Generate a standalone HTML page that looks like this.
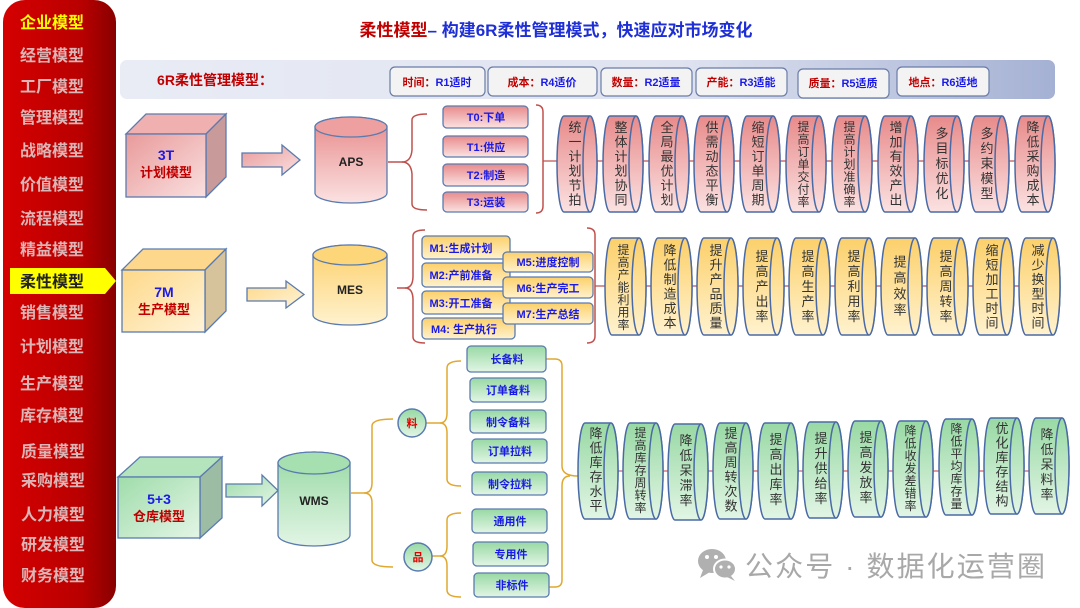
<!DOCTYPE html>
<html><head><meta charset="utf-8"><style>
html,body{margin:0;padding:0;background:#fff;}
svg{display:block;font-family:"Liberation Sans","Noto Sans CJK SC",sans-serif;}
.sb{font-size:16px;font-weight:bold;fill:#dcb6b6;text-anchor:middle;}
.bx{font-size:11px;font-weight:bold;fill:#1a1ae6;text-anchor:middle;}
.vt{font-size:13px;fill:#333;text-anchor:middle;writing-mode:vertical-rl;text-orientation:upright;}
.v7{font-size:12px;}
.rb{font-size:11px;font-weight:bold;text-anchor:middle;}
</style></head><body>
<svg width="1080" height="608" viewBox="0 0 1080 608" xmlns="http://www.w3.org/2000/svg">
<defs>
<linearGradient id="sbg" x1="0" y1="0" x2="1" y2="0"><stop offset="0" stop-color="#d50000"/><stop offset="0.7" stop-color="#b80000"/><stop offset="1" stop-color="#880000"/></linearGradient>
<linearGradient id="bar" x1="0" y1="0" x2="1" y2="0"><stop offset="0" stop-color="#e9ecf5"/><stop offset="0.6" stop-color="#dfe3f0"/><stop offset="1" stop-color="#a5b1d4"/></linearGradient>
<linearGradient id="gr" x1="0" y1="0" x2="0" y2="1"><stop offset="0" stop-color="#e88a8a"/><stop offset="1" stop-color="#fbe2e2"/></linearGradient>
<linearGradient id="go" x1="0" y1="0" x2="0" y2="1"><stop offset="0" stop-color="#fcd06a"/><stop offset="1" stop-color="#fff2cf"/></linearGradient>
<linearGradient id="gg" x1="0" y1="0" x2="0" y2="1"><stop offset="0" stop-color="#98d9a4"/><stop offset="1" stop-color="#e2f5e5"/></linearGradient>
<linearGradient id="grd" x1="0" y1="0" x2="1" y2="1"><stop offset="0" stop-color="#e99a9a"/><stop offset="1" stop-color="#fae0e0"/></linearGradient>
<linearGradient id="god" x1="0" y1="0" x2="1" y2="1"><stop offset="0" stop-color="#fdd888"/><stop offset="1" stop-color="#fff3d8"/></linearGradient>
<linearGradient id="ggd" x1="0" y1="0" x2="1" y2="1"><stop offset="0" stop-color="#9fdcaa"/><stop offset="1" stop-color="#e3f5e6"/></linearGradient>
<g id="c1"><path d="M7,0 L33,0 A7,48 0 0 1 33,96 L7,96 A7,48 0 0 1 7,0 Z" fill="url(#gr)" stroke="#4a6aa5" stroke-width="1.5"/><ellipse cx="33" cy="48" rx="7" ry="48" fill="url(#gr)" stroke="#4a6aa5" stroke-width="1.5"/></g>
<g id="c2"><path d="M7,0 L34,0 A7,48.5 0 0 1 34,97 L7,97 A7,48.5 0 0 1 7,0 Z" fill="url(#go)" stroke="#4a6aa5" stroke-width="1.5"/><ellipse cx="34" cy="48.5" rx="7" ry="48.5" fill="url(#go)" stroke="#4a6aa5" stroke-width="1.5"/></g>
<g id="c3"><path d="M7,0 L33,0 A7,48 0 0 1 33,96 L7,96 A7,48 0 0 1 7,0 Z" fill="url(#gg)" stroke="#4a6aa5" stroke-width="1.5"/><ellipse cx="33" cy="48" rx="7" ry="48" fill="url(#gg)" stroke="#4a6aa5" stroke-width="1.5"/></g>
</defs>

<!-- sidebar -->
<rect x="3" y="0" width="113" height="608" rx="22" fill="url(#sbg)"/>
<polygon points="10,268 105,268 116,281 105,294 10,294" fill="#ffff00"/>
<text class="sb" x="52" y="28" style="fill:#ffff00">企业模型</text>
<text class="sb" x="52" y="61">经营模型</text>
<text class="sb" x="52" y="92">工厂模型</text>
<text class="sb" x="52" y="123">管理模型</text>
<text class="sb" x="52" y="156">战略模型</text>
<text class="sb" x="52" y="190">价值模型</text>
<text class="sb" x="52" y="224">流程模型</text>
<text class="sb" x="52" y="255">精益模型</text>
<text class="sb" x="52" y="287" style="fill:#222">柔性模型</text>
<text class="sb" x="52" y="318">销售模型</text>
<text class="sb" x="52" y="352">计划模型</text>
<text class="sb" x="52" y="389">生产模型</text>
<text class="sb" x="52" y="421">库存模型</text>
<text class="sb" x="53" y="457">质量模型</text>
<text class="sb" x="53" y="486">采购模型</text>
<text class="sb" x="53" y="520">人力模型</text>
<text class="sb" x="53" y="550">研发模型</text>
<text class="sb" x="53" y="581">财务模型</text>

<!-- title -->
<text x="556" y="36" text-anchor="middle" font-size="17" font-weight="bold"><tspan fill="#c00000">柔性模型</tspan><tspan fill="#1f2fd6">– 构建6R柔性管理模式，快速应对市场变化</tspan></text>

<!-- top bar -->
<rect x="120" y="60" width="935" height="39" rx="7" fill="url(#bar)"/>
<text x="215" y="85" text-anchor="middle" font-size="14" font-weight="bold" fill="#c00000">6R柔性管理模型：</text>
<g stroke="#6a7ca8" stroke-width="1.2" fill="#f3f3f3">
<rect x="390" y="67" width="95" height="29" rx="5"/>
<rect x="488" y="67" width="109" height="29" rx="5"/>
<rect x="601" y="68" width="91" height="28" rx="5"/>
<rect x="696" y="68" width="91" height="28" rx="5"/>
<rect x="798" y="69" width="91" height="29" rx="5"/>
<rect x="897" y="67" width="92" height="29" rx="5"/>
</g>
<text class="rb" x="437" y="86"><tspan fill="#c00000">时间：</tspan><tspan fill="#1a1ae6">R1适时</tspan></text>
<text class="rb" x="542" y="86"><tspan fill="#c00000">成本：</tspan><tspan fill="#1a1ae6">R4适价</tspan></text>
<text class="rb" x="646" y="86"><tspan fill="#c00000">数量：</tspan><tspan fill="#1a1ae6">R2适量</tspan></text>
<text class="rb" x="741" y="86"><tspan fill="#c00000">产能：</tspan><tspan fill="#1a1ae6">R3适能</tspan></text>
<text class="rb" x="843" y="87"><tspan fill="#c00000">质量：</tspan><tspan fill="#1a1ae6">R5适质</tspan></text>
<text class="rb" x="943" y="86"><tspan fill="#c00000">地点：</tspan><tspan fill="#1a1ae6">R6适地</tspan></text>

<!-- ROW 1 -->
<g stroke="#5a7bb0" stroke-width="1.3">
<polygon points="126,134 146,114 226,114 206,134" fill="#f0b0b0"/>
<polygon points="206,134 226,114 226,177 206,197" fill="#c99a9a"/>
<rect x="126" y="134" width="80" height="63" fill="url(#grd)"/>
<polygon points="242,153 282,153 282,145 300,160 282,175 282,167 242,167" fill="url(#grd)"/>
<path d="M315,127 A36,10 0 0 1 387,127 L387,193 A36,10 0 0 1 315,193 Z" fill="url(#gr)"/>
<ellipse cx="351" cy="127" rx="36" ry="10" fill="#eea0a0"/>
</g>
<text x="166" y="160" text-anchor="middle" font-size="14" font-weight="bold" fill="#1a1ae6">3T</text>
<text x="166" y="177" text-anchor="middle" font-size="13" font-weight="bold" fill="#c00000">计划模型</text>
<text x="351" y="166" text-anchor="middle" font-size="12" font-weight="bold" fill="#222">APS</text>
<g fill="none" stroke="#c0504d" stroke-width="1.5">
<path d="M388,162 L402,162 Q411,162 412,150 L412,120 Q412,114 427,114"/>
<path d="M402,162 Q411,162 412,174 L412,204 Q412,210 427,210"/>
<path d="M536,105 Q543,105 543,112 L543,206 Q543,213 536,213"/>
<path d="M543,161 L1040,161" stroke-width="1.2"/>
</g>
<g stroke="#5a7bb0" stroke-width="1.3" fill="url(#gr)">
<rect x="443" y="106" width="85" height="22" rx="4"/>
<rect x="443" y="136" width="85" height="21" rx="4"/>
<rect x="443" y="164" width="85" height="22" rx="4"/>
<rect x="443" y="192" width="85" height="20" rx="4"/>
</g>
<text class="bx" x="486" y="121">T0:下单</text>
<text class="bx" x="486" y="151">T1:供应</text>
<text class="bx" x="486" y="179">T2:制造</text>
<text class="bx" x="486" y="206">T3:运装</text>

<use href="#c1" x="557" y="116"/><use href="#c1" x="603" y="116"/><use href="#c1" x="649" y="116"/><use href="#c1" x="694" y="116"/><use href="#c1" x="740" y="116"/><use href="#c1" x="786" y="116"/><use href="#c1" x="832" y="116"/><use href="#c1" x="878" y="116"/><use href="#c1" x="924" y="116"/><use href="#c1" x="969" y="116"/><use href="#c1" x="1015" y="116"/>
<text class="vt" x="574" y="164" letter-spacing="1.5">统一计划节拍</text>
<text class="vt" x="620" y="164" letter-spacing="1.5">整体计划协同</text>
<text class="vt" x="666" y="164" letter-spacing="1.5">全局最优计划</text>
<text class="vt" x="711" y="164" letter-spacing="1.5">供需动态平衡</text>
<text class="vt" x="757" y="164" letter-spacing="1.5">缩短订单周期</text>
<text class="vt v7" x="803" y="164" letter-spacing="0.5">提高订单交付率</text>
<text class="vt v7" x="849" y="164" letter-spacing="0.5">提高计划准确率</text>
<text class="vt" x="895" y="164" letter-spacing="1.5">增加有效产出</text>
<text class="vt" x="941" y="164" letter-spacing="2">多目标优化</text>
<text class="vt" x="986" y="164" letter-spacing="2">多约束模型</text>
<text class="vt" x="1032" y="164" letter-spacing="1.5">降低采购成本</text>

<!-- ROW 2 -->
<g stroke="#5a7bb0" stroke-width="1.3">
<polygon points="122,270 143,249 226,249 205,270" fill="#fdd88c"/>
<polygon points="205,270 226,249 226,311 205,332" fill="#d6c39c"/>
<rect x="122" y="270" width="83" height="62" fill="url(#god)"/>
<polygon points="247,288 286,288 286,281 304,294.5 286,308 286,301 247,301" fill="url(#god)"/>
<path d="M313,255 A37,10 0 0 1 387,255 L387,315 A37,10 0 0 1 313,315 Z" fill="url(#go)"/>
<ellipse cx="350" cy="255" rx="37" ry="10" fill="#fcd679"/>
</g>
<text x="164" y="297" text-anchor="middle" font-size="14" font-weight="bold" fill="#1a1ae6">7M</text>
<text x="164" y="314" text-anchor="middle" font-size="13" font-weight="bold" fill="#c00000">生产模型</text>
<text x="350" y="294" text-anchor="middle" font-size="12" font-weight="bold" fill="#222">MES</text>
<g fill="none" stroke="#c0504d" stroke-width="1.5">
<path d="M397,288 L405,288 Q413,288 413,276 L413,236 Q413,230 425,230"/>
<path d="M405,288 Q413,288 413,300 L413,337 Q413,343 425,343"/>
<path d="M587,228 Q595,228 595,235 L595,336 Q595,343 587,343"/>
<path d="M595,286 L1045,286" stroke-width="1.2"/>
</g>
<g stroke="#5a7bb0" stroke-width="1.3" fill="url(#go)">
<rect x="422" y="236" width="88" height="23" rx="4"/>
<rect x="422" y="263" width="88" height="24" rx="4"/>
<rect x="422" y="291" width="88" height="23" rx="4"/>
<rect x="422" y="318" width="93" height="21" rx="4"/>
<rect x="503" y="252" width="90" height="20" rx="4"/>
<rect x="503" y="277" width="90" height="21" rx="4"/>
<rect x="503" y="303" width="90" height="21" rx="4"/>
</g>
<text class="bx" x="461" y="252">M1:生成计划</text>
<text class="bx" x="461" y="279">M2:产前准备</text>
<text class="bx" x="461" y="307">M3:开工准备</text>
<text class="bx" x="464" y="333">M4:  生产执行</text>
<text class="bx" x="548" y="266">M5:进度控制</text>
<text class="bx" x="548" y="292">M6:生产完工</text>
<text class="bx" x="548" y="318">M7:生产总结</text>

<use href="#c2" x="605" y="238"/><use href="#c2" x="651" y="238"/><use href="#c2" x="697" y="238"/><use href="#c2" x="743" y="238"/><use href="#c2" x="789" y="238"/><use href="#c2" x="835" y="238"/><use href="#c2" x="881" y="238"/><use href="#c2" x="927" y="238"/><use href="#c2" x="973" y="238"/><use href="#c2" x="1019" y="238"/>
<text class="vt v7" x="623" y="287" letter-spacing="0.5">提高产能利用率</text>
<text class="vt" x="669" y="287" letter-spacing="1.5">降低制造成本</text>
<text class="vt" x="715" y="287" letter-spacing="1.5">提升产品质量</text>
<text class="vt" x="761" y="287" letter-spacing="2">提高产出率</text>
<text class="vt" x="807" y="287" letter-spacing="2">提高生产率</text>
<text class="vt" x="853" y="287" letter-spacing="2">提高利用率</text>
<text class="vt" x="899" y="287" letter-spacing="3">提高效率</text>
<text class="vt" x="945" y="287" letter-spacing="2">提高周转率</text>
<text class="vt" x="991" y="287" letter-spacing="1.5">缩短加工时间</text>
<text class="vt" x="1037" y="287" letter-spacing="1.5">减少换型时间</text>

<!-- ROW 3 -->
<g stroke="#5a7bb0" stroke-width="1.3">
<polygon points="118,477 140,457 222,457 200,477" fill="#b4e4bc"/>
<polygon points="200,477 222,457 222,518 200,538" fill="#9dbca4"/>
<rect x="118" y="477" width="82" height="61" fill="url(#ggd)"/>
<polygon points="226,484 262,484 262,475 278,490.5 262,506 262,497 226,497" fill="url(#ggd)"/>
<path d="M278,463 A36,11 0 0 1 350,463 L350,535 A36,11 0 0 1 278,535 Z" fill="url(#gg)"/>
<ellipse cx="314" cy="463" rx="36" ry="11" fill="#a6dfb0"/>
</g>
<text x="159" y="504" text-anchor="middle" font-size="14" font-weight="bold" fill="#1a1ae6">5+3</text>
<text x="159" y="521" text-anchor="middle" font-size="13" font-weight="bold" fill="#c00000">仓库模型</text>
<text x="314" y="505" text-anchor="middle" font-size="12" font-weight="bold" fill="#222">WMS</text>
<g fill="none" stroke="#e0a830" stroke-width="1.5">
<path d="M351,493 L364,493 Q372,493 372,483 L372,426 Q372,419 393,419"/>
<path d="M364,493 Q372,493 372,503 L372,560 Q372,567 393,567"/>
<path d="M426,423 L440,423 Q447,423 447,413 L447,368 Q447,361 461,361"/>
<path d="M440,423 Q447,423 447,433 L447,479 Q447,486 461,486"/>
<path d="M432,556 L440,556 Q447,556 447,546 L447,520 Q447,513 461,513"/>
<path d="M440,556 Q447,556 447,566 L447,590 Q447,597 461,597"/>
<path d="M546,359 L555,359 Q562,359 562,366 L562,466 Q562,476 578,476"/>
<path d="M549,587 L555,587 Q562,587 562,580 L562,486 Q562,476 570,476"/>
</g>
<line x1="578" y1="471" x2="1050" y2="471" stroke="#d06060" stroke-width="1.2"/>
<g stroke="#5a7bb0" stroke-width="1.5" fill="url(#gg)">
<circle cx="412" cy="423" r="14"/>
<circle cx="418" cy="557" r="14"/>
</g>
<text x="412" y="427" text-anchor="middle" font-size="11" font-weight="bold" fill="#e00000">料</text>
<text x="418" y="561" text-anchor="middle" font-size="11" font-weight="bold" fill="#e00000">品</text>
<g stroke="#5a7bb0" stroke-width="1.3" fill="url(#gg)">
<rect x="467" y="346" width="79" height="26" rx="4"/>
<rect x="470" y="378" width="76" height="24" rx="4"/>
<rect x="470" y="410" width="76" height="23" rx="4"/>
<rect x="472" y="439" width="75" height="24" rx="4"/>
<rect x="472" y="472" width="75" height="23" rx="4"/>
<rect x="472" y="509" width="75" height="24" rx="4"/>
<rect x="473" y="542" width="75" height="24" rx="4"/>
<rect x="474" y="573" width="75" height="24" rx="4"/>
</g>
<text class="bx" x="507" y="363">长备料</text>
<text class="bx" x="508" y="394">订单备料</text>
<text class="bx" x="508" y="426">制令备料</text>
<text class="bx" x="510" y="455">订单拉料</text>
<text class="bx" x="510" y="488">制令拉料</text>
<text class="bx" x="510" y="525">通用件</text>
<text class="bx" x="511" y="558">专用件</text>
<text class="bx" x="512" y="589">非标件</text>

<use href="#c3" x="578" y="423"/><use href="#c3" x="623" y="423"/><use href="#c3" x="668" y="424"/><use href="#c3" x="713" y="423"/><use href="#c3" x="758" y="423"/><use href="#c3" x="803" y="422"/><use href="#c3" x="848" y="421"/><use href="#c3" x="893" y="421"/><use href="#c3" x="939" y="419"/><use href="#c3" x="984" y="418"/><use href="#c3" x="1029" y="418"/>
<text class="vt" x="595" y="470" letter-spacing="1.5">降低库存水平</text>
<text class="vt v7" x="640" y="470" letter-spacing="0.5">提高库存周转率</text>
<text class="vt" x="685" y="471" letter-spacing="2">降低呆滞率</text>
<text class="vt" x="730" y="470" letter-spacing="1.5">提高周转次数</text>
<text class="vt" x="775" y="470" letter-spacing="2">提高出库率</text>
<text class="vt" x="820" y="469" letter-spacing="2">提升供给率</text>
<text class="vt" x="865" y="468" letter-spacing="2">提高发放率</text>
<text class="vt v7" x="910" y="468" letter-spacing="0.5">降低收发差错率</text>
<text class="vt v7" x="956" y="466" letter-spacing="0.5">降低平均库存量</text>
<text class="vt" x="1001" y="465" letter-spacing="1.5">优化库存结构</text>
<text class="vt" x="1046" y="465" letter-spacing="2">降低呆料率</text>

<!-- watermark -->
<g fill="#b0b0b0">
<ellipse cx="712" cy="561" rx="14" ry="12"/>
<polygon points="703,570 700,578 710,572"/>
<ellipse cx="725" cy="569" rx="11" ry="9.5" stroke="#fff" stroke-width="2"/>
<polygon points="731,576 735,581 727,577"/>
</g>
<g fill="#fff"><circle cx="707" cy="557" r="2"/><circle cx="716" cy="557" r="2"/><circle cx="721" cy="567" r="1.6"/><circle cx="729" cy="567" r="1.6"/></g>
<text x="745" y="576" font-size="28" fill="#a8a8a8" textLength="300" lengthAdjust="spacing">公众号 · 数据化运营圈</text>
</svg>
</body></html>
